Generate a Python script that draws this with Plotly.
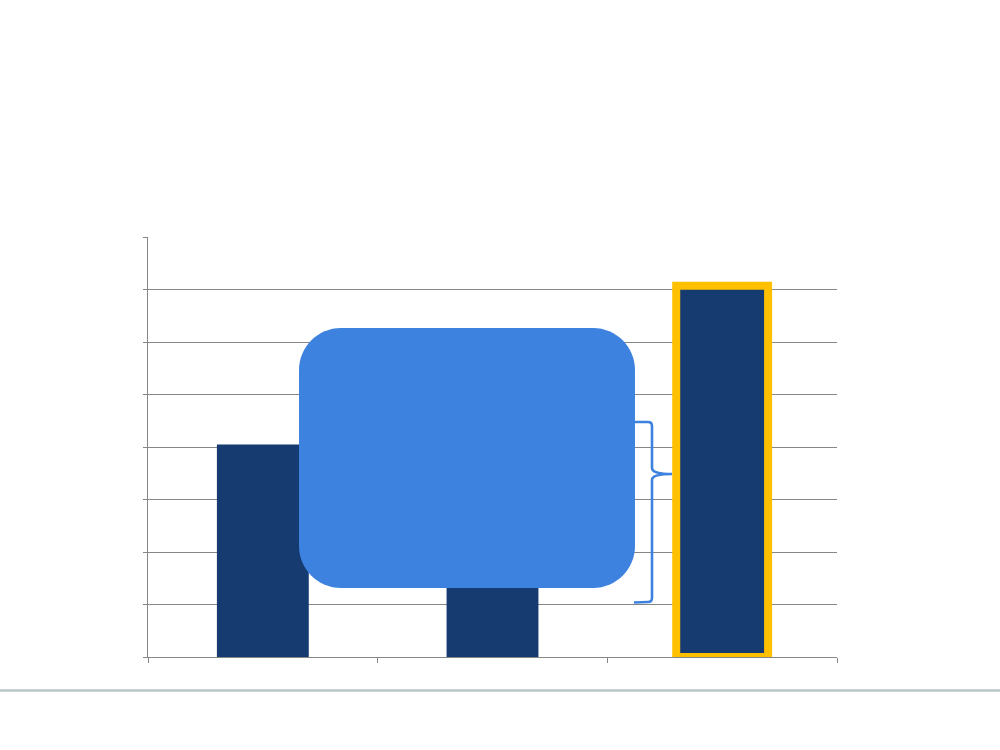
import plotly.graph_objects as go

# ---- data ----
categories = ["A", "B", "C"]
values = [4.05, 2.0, 7.07]
bar_colors = ["#153B71", "#153B71", "#153B71"]
outline_colors = ["rgba(0,0,0,0)", "rgba(0,0,0,0)", "#FFC000"]
outline_widths = [0, 0, 8]
y_max = 8

W, H = 1000, 750
L, R, T, B = 148, 837, 237, 657  # plot area in pixels


def px(x):
    return (x - L) / (R - L)


def py(y):
    return (B - y) / (B - T)


fig = go.Figure()
fig.add_trace(go.Bar(
    x=categories, y=values, width=0.4,
    marker=dict(color=bar_colors,
                line=dict(color=outline_colors, width=outline_widths)),
    hoverinfo="skip",
))

# rounded callout box
x0, x1, y0, y1, r = 299, 635, 328, 588, 42
k = 0.45
box_path = (
    f"M {px(x0 + r)},{py(y0)} L {px(x1 - r)},{py(y0)} "
    f"C {px(x1 - r * k)},{py(y0)} {px(x1)},{py(y0 + r * k)} {px(x1)},{py(y0 + r)} "
    f"L {px(x1)},{py(y1 - r)} "
    f"C {px(x1)},{py(y1 - r * k)} {px(x1 - r * k)},{py(y1)} {px(x1 - r)},{py(y1)} "
    f"L {px(x0 + r)},{py(y1)} "
    f"C {px(x0 + r * k)},{py(y1)} {px(x0)},{py(y1 - r * k)} {px(x0)},{py(y1 - r)} "
    f"L {px(x0)},{py(y0 + r)} "
    f"C {px(x0)},{py(y0 + r * k)} {px(x0 + r * k)},{py(y0)} {px(x0 + r)},{py(y0)} Z"
)

# brace
bx, ty, by, tipx, tipy = 652, 422, 602, 672, 474
brace_path = (
    f"M {px(628)},{py(ty)} L {px(bx - 4)},{py(ty)} "
    f"Q {px(bx)},{py(ty)} {px(bx)},{py(ty + 4)} "
    f"L {px(bx)},{py(tipy - 6)} "
    f"Q {px(bx)},{py(tipy)} {px(tipx)},{py(tipy)} "
    f"Q {px(bx)},{py(tipy)} {px(bx)},{py(tipy + 6)} "
    f"L {px(bx)},{py(by - 4)} "
    f"Q {px(bx)},{py(by)} {px(bx - 4)},{py(by)} "
    f"L {px(634)},{py(by + 0.5)}"
)

shapes = [
    dict(type="path", xref="paper", yref="paper", path=brace_path,
         line=dict(color="#3D82DF", width=2.6), layer="above"),
    dict(type="path", xref="paper", yref="paper", path=box_path,
         fillcolor="#3D82DF", line=dict(width=0), layer="above"),
    dict(type="line", xref="paper", yref="paper",
         x0=px(0), x1=px(W), y0=py(690.5), y1=py(690.5),
         line=dict(color="#B8C6C8", width=2.5)),
]

fig.update_layout(
    width=W, height=H,
    margin=dict(l=L, r=W - R, t=T, b=H - B, pad=0),
    paper_bgcolor="white", plot_bgcolor="white",
    showlegend=False,
    bargap=0.6,
    shapes=shapes,
    xaxis=dict(
        type="category", showticklabels=False, showgrid=False,
        showline=True, linecolor="#868686", linewidth=1.3,
        ticks="outside", ticklen=5, tickcolor="#868686", tickwidth=1,
        tickson="boundaries", zeroline=False,
    ),
    yaxis=dict(
        range=[0, y_max], dtick=1, showticklabels=False,
        showgrid=True, gridcolor="#868686", gridwidth=1,
        showline=True, linecolor="#868686", linewidth=1.3,
        ticks="outside", ticklen=4, tickcolor="#868686",
        zeroline=False,
    ),
)

fig.write_html("out.html", config={"displayModeBar": False},
               post_script="document.body.style.margin='0';")
